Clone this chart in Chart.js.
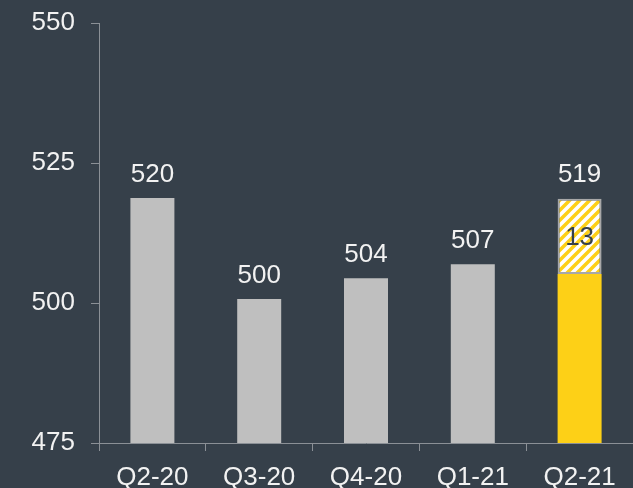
<!DOCTYPE html>
<html>
<head>
<meta charset="utf-8">
<script src="https://cdn.jsdelivr.net/npm/chart.js@4/dist/chart.umd.min.js"></script>
<style>
  html, body { margin: 0; padding: 0; background: #36404a; }
  #wrap { width: 633px; height: 488px; }
</style>
</head>
<body>
<div id="wrap"><canvas id="myChart" width="633" height="488"></canvas></div>
<script>
const quarters = ['Q2-20', 'Q3-20', 'Q4-20', 'Q1-21', 'Q2-21'];
const baseValues = [518.75, 500.7, 504.4, 506.9, 505.2];
const extraValues = [null, null, null, null, 13.4];
const totalLabels = ['520', '500', '504', '507', '519'];
const extraLabels = [null, null, null, null, '13'];
const yTicks = [475, 500, 525, 550];

const GREY = '#bfbfbf';
const YELLOW = '#fdd017';
const AXIS = '#8b9096';
const TEXT = '#f2f2f2';
const BG = '#36404a';
const FONT = '"Liberation Sans", Arial, sans-serif';

function makeHatch() {
  const c = document.createElement('canvas');
  c.width = 10;
  c.height = 10;
  const g = c.getContext('2d');
  g.fillStyle = '#ffffff';
  g.fillRect(0, 0, 10, 10);
  g.strokeStyle = YELLOW;
  g.lineWidth = 3.5;
  g.beginPath();
  g.moveTo(-5, 5); g.lineTo(5, -5);
  g.moveTo(0, 10); g.lineTo(10, 0);
  g.moveTo(5, 15); g.lineTo(15, 5);
  g.stroke();
  return document.getElementById('myChart').getContext('2d').createPattern(c, 'repeat');
}

// labels above bars and inside the hatched part
const labelPlugin = {
  id: 'barLabels',
  afterDatasetsDraw(chart) {
    const ctx = chart.ctx;
    const base = chart.getDatasetMeta(0).data;
    const extra = chart.getDatasetMeta(1).data;
    ctx.save();
    ctx.font = '26px ' + FONT;
    ctx.textAlign = 'center';
    quarters.forEach((q, i) => {
      const topBar = extraValues[i] != null ? extra[i] : base[i];
      ctx.fillStyle = TEXT;
      ctx.textBaseline = 'alphabetic';
      ctx.fillText(totalLabels[i], topBar.x, topBar.y - 16.5);
      if (extraLabels[i]) {
        ctx.fillStyle = BG;
        ctx.textBaseline = 'middle';
        ctx.fillText(extraLabels[i], extra[i].x, (extra[i].y + extra[i].base) / 2 + 1);
      }
    });
    ctx.restore();
  }
};

const ctx = document.getElementById('myChart').getContext('2d');
new Chart(ctx, {
  type: 'bar',
  data: {
    labels: quarters,
    datasets: [{
      data: baseValues,
      backgroundColor: quarters.map((q, i) => i === quarters.length - 1 ? YELLOW : GREY),
      borderWidth: 0,
      barPercentage: 0.412,
      categoryPercentage: 1
    }, {
      data: extraValues,
      backgroundColor: makeHatch(),
      borderColor: '#a8a8a8',
      borderWidth: 2,
      borderSkipped: false,
      barPercentage: 0.412,
      categoryPercentage: 1
    }]
  },
  options: {
    responsive: false,
    animation: false,
    layout: { padding: { top: 23, right: 0, left: 0, bottom: 0 } },
    plugins: {
      legend: { display: false },
      tooltip: { enabled: false }
    },
    scales: {
      x: {
        stacked: true,
        grid: { drawOnChartArea: false, color: AXIS, tickLength: 8, offset: true },
        border: { color: AXIS, width: 1 },
        ticks: { color: TEXT, font: { family: FONT, size: 26 }, padding: 11 },
        afterFit: s => { s.height = 45; s.paddingLeft = 0; s.paddingRight = 0; }
      },
      y: {
        stacked: true,
        min: 475,
        max: 550,
        afterBuildTicks: s => { s.ticks = yTicks.map(v => ({ value: v })); },
        grid: { drawOnChartArea: false, color: AXIS, tickLength: 8 },
        border: { color: AXIS, width: 1 },
        ticks: { color: TEXT, font: { family: FONT, size: 26 }, padding: 16 },
        afterFit: s => { s.width = 99; s.paddingTop = 0; s.paddingBottom = 0; }
      }
    }
  },
  plugins: [labelPlugin]
});
</script>
</body>
</html>
